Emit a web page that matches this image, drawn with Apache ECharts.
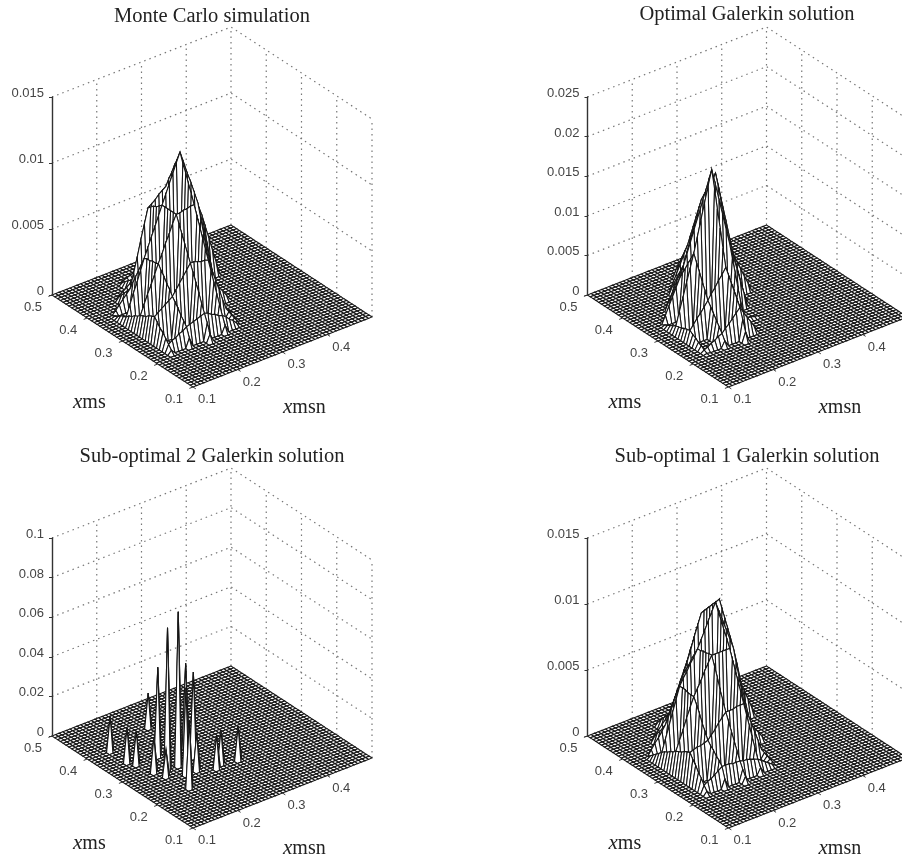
<!DOCTYPE html>
<html><head><meta charset="utf-8">
<style>html,body{margin:0;padding:0;background:#fff}#c{width:902px;height:862px}</style>
<script src="https://cdn.jsdelivr.net/npm/echarts@6/dist/echarts.min.js"></script>
</head><body><div id="c"></div>
<script>
// ---------- axis ticks ----------
const msTicks = [0.1, 0.2, 0.3, 0.4, 0.5];
const msnTicks = [0.1, 0.2, 0.3, 0.4, 0.5];
const msnLabels = [0.1, 0.2, 0.3, 0.4];
const titles = ['Monte Carlo simulation', 'Optimal Galerkin solution', 'Sub-optimal 2 Galerkin solution', 'Sub-optimal 1 Galerkin solution'];
const zMaxes = [0.015, 0.025, 0.1, 0.015];
const zSteps = [0.005, 0.005, 0.02, 0.005];
const gridCells = 50;               // mesh cells per side
const unit = 1e-4;                  // the tables below are in units of 1e-4

// Ridge rows: ms index 15,20,25,...; first entry = msn index where the values start.
// Ridge columns: msn index 5,10,15,...; first entry = ms index where the values start.
const mcRows = [
[5,6,8,9,11,12,14,15,16,17,18,19,18,16,15,13,12,10,7,5,2,0],
[5,20,22,24,26,28,30,34,38,42,46,50,50,49,48,48,47,39,30,22,13,5,2,0],
[5,14,21,28,34,41,48,54,61,67,74,80,80,81,81,82,82,70,57,45,32,20,16,12,8,4,0],
[5,6,14,22,29,37,45,52,59,66,73,80,87,94,101,108,115,106,97,89,80,71,57,43,28,14,0],
[5,0,3,6,9,12,15,26,37,49,60,71,73,75,78,80,82,84,86,88,90,92,84,75,67,58,50,40,30,20,10,0],
[10,0,2,4,6,8,10,20,30,40,50,60,58,57,55,54,52,47,41,36,30,25,20,15,10,5,0],
[15,0,1,2,3,4,5,8,11,14,17,20,17,14,11,8,5,4,3,2,1,0]];
const mcCols = [
[13,0,3,6,9,12,14,17,20,19,18,16,15,14,12,11,9,8,6,5,4,2,1,0],
[13,0,7,14,17,20,24,27,30,34,37,41,44,48,47,47,46,46,45,39,33,27,21,15,12,9,6,3,0],
[12,0,6,13,19,25,32,38,44,50,56,62,68,74,80,80,80,80,80,80,78,76,75,73,71,59,47,34,22,10,8,6,4,2,0],
[13,0,6,12,19,26,33,40,47,54,61,68,75,82,89,95,102,108,115,108,102,95,89,82,78,73,69,64,60,49,38,27,16,5,0],
[15,0,1,2,3,4,5,8,11,14,17,20,30,40,51,61,71,75,80,84,88,92,84,76,68,60,52,46,39,33,26,20,13,7,0],
[30,0,10,20,30,40,50,45,40,35,30,25,21,17,13,9,5,3,0]];

const optRows = [
[5,3,5,8,10,13,15,20,24,29,34,39,31,23,16,8,0],
[5,16,22,28,33,39,45,52,58,65,71,78,63,49,34,20,5,4,3,2,1,0],
[5,10,27,43,60,76,93,112,132,151,171,190,170,149,129,108,88,70,53,35,18,0],
[5,0,10,20,30,40,50,63,77,90,104,117,127,136,146,155,165,143,120,98,75,53,42,32,21,11,0],
[10,0,9,18,28,37,46,61,76,90,105,120,116,112,108,104,100,80,60,40,20,0],
[15,0,10,20,30,40,50,52,54,56,58,60,51,42,33,24,15,12,9,6,3,0]];
const optCols = [
[13,0,1,3,6,8,11,13,16,15,14,12,11,10,8,6,4,2,0],
[13,0,8,15,21,27,33,39,45,55,64,74,83,93,84,76,67,59,50,40,30,20,10,0],
[12,0,13,26,39,47,55,62,70,78,100,123,145,168,190,175,160,146,131,117,103,89,74,60,46,37,28,18,9,0],
[15,0,1,2,3,4,5,22,38,55,71,88,103,119,134,150,165,156,147,138,129,120,106,92,78,64,50,40,30,20,10,0],
[25,0,11,21,32,42,53,62,72,81,91,100,92,84,76,68,60,48,36,24,12,0],
[35,0,3,6,9,12,15,10,5,0]];

// Sub-optimal 2: isolated spikes [ms index, msn index, tip height]
const sub2Spikes = [
[37,6,176],[31,6,176],[29,7,170],[40,19,176],[24,8,180],[21,9,136],[14,10,340],
[17,20,170],[18,22,170],[17,26,170],[19,16,190],[23,14,780],[23,11,720],[29,13,450],
[28,20,430],[24,19,430],[19,13,440]];

const sub1Rows = [
[5,6,8,9,11,13,15,15,15,14,14,14,13,13,12,11,10,8,6,4,2,0],
[5,24,25,26,26,27,28,31,34,38,41,44,44,44,45,45,45,37,29,21,13,5,3,0],
[5,18,25,32,40,47,54,59,64,70,75,80,80,80,80,80,80,68,56,44,32,20,16,12,8,4,0],
[5,10,19,28,37,46,55,60,64,69,73,78,84,90,96,102,108,100,92,84,76,68,55,41,28,15,2,0],
[5,0,4,8,11,15,19,26,32,39,45,52,60,68,77,85,93,94,95,96,97,98,85,73,60,48,35,28,21,14,7,0],
[10,0,3,6,9,12,15,22,29,36,43,50,54,58,62,66,70,65,60,55,50,45,36,27,18,9,0],
[15,0,1,2,3,4,5,8,11,14,17,20,19,18,17,16,15,12,9,6,3,0]];
const sub1Cols = [
[13,0,3,6,10,13,17,20,24,23,22,20,19,18,16,15,13,12,10,8,6,4,2,0],
[13,0,7,15,18,20,23,25,28,33,38,44,49,54,54,54,55,55,55,48,41,33,26,19,15,11,8,4,0],
[12,0,5,9,14,20,26,32,38,44,51,58,66,73,80,80,79,79,78,78,73,68,62,57,52,45,37,30,22,15,12,9,6,3,0],
[13,0,5,10,17,24,31,38,45,52,59,66,73,80,86,91,97,102,108,105,102,99,96,93,84,76,67,59,50,41,32,23,14,5,0],
[15,0,1,2,3,4,5,8,11,14,17,20,30,39,49,58,68,74,80,86,92,98,92,87,81,76,70,60,50,40,30,20,13,7,0],
[30,2,9,15,22,28,35,37,39,41,43,45,39,33,27,21,15,10,5,0]];

// ---------- layout and view ----------
const panelX = [0, 535.5, 0, 535.5];
const panelY = [0, 0, 441, 441];
const titleCenter = [212, 747, 212, 747];
const titleTop = [6, 4, 446, 446];
const view = {u0: 193, v0: 13, uMs: -141, vMs: 92, uMsn: 179, vMsn: 70, zPx: 198, w: 366, h: 400};
const ink = '#151515', soft = '#444';

function project(ms, msn, zFrac) {
  const a = (ms - 0.1) / 0.4, b = (msn - 0.1) / 0.4;
  return [view.u0 + a * view.uMs + b * view.uMsn, view.v0 + a * view.vMs + b * view.vMsn + zFrac * view.zPx];
}
function surface(rows, cols, spikes) {
  const z = [];
  for (let i = 0; i <= gridCells; i++) z.push(new Array(gridCells + 1).fill(0));
  (rows || []).forEach((r, k) => r.slice(1).forEach((v, n) => { const i = 15 + 5 * k, j = r[0] + n; z[i][j] = Math.max(z[i][j], v); }));
  (cols || []).forEach((c, k) => c.slice(1).forEach((v, n) => { const j = 5 + 5 * k, i = c[0] + n; z[i][j] = Math.max(z[i][j], v); }));
  (spikes || []).forEach(s => { z[s[0]][s[1]] = s[2]; });
  return z;
}
const surfaces = [surface(mcRows, mcCols), surface(optRows, optCols), surface(null, null, sub2Spikes), surface(sub1Rows, sub1Cols)];

function quads(z) {
  const out = [];
  for (let i = gridCells - 1; i >= 0; i--) for (let j = gridCells - 1; j >= 0; j--)
    out.push([i, j, z[i][j], z[i + 1][j], z[i + 1][j + 1], z[i][j + 1]]);
  return out;
}
const msOf = i => 0.1 + 0.4 * i / gridCells, msnOf = msOf;

const grids = [], xAxes = [], yAxes = [], series = [], titleList = [];
const hidden = {show: false};
const labelFont = {fontFamily: 'Liberation Sans', fontSize: 13, color: soft};

panelX.forEach((ox, p) => {
  const oy = panelY[p], zMax = zMaxes[p], zStep = zSteps[p];
  const plot = grids.length;
  grids.push({left: ox, top: oy, width: view.w, height: view.h});
  xAxes.push({type: 'value', gridIndex: plot, min: 0, max: view.w, ...hidden});
  yAxes.push({type: 'value', gridIndex: plot, min: 0, max: view.h, ...hidden});
  const zGrid = grids.length;
  grids.push({left: ox + 52, top: oy + 97, width: 10, height: view.zPx});
  xAxes.push({type: 'value', gridIndex: zGrid, min: 0, max: 1, ...hidden});
  yAxes.push({type: 'value', gridIndex: zGrid, min: 0, max: zMax, interval: zStep, splitLine: hidden, z: 6,
    axisLine: {show: true, onZero: false, lineStyle: {color: '#333', width: 1.4}},
    axisTick: {show: true, length: 3, lineStyle: {color: '#333'}},
    axisLabel: {...labelFont, margin: 8, verticalAlign: 'bottom', lineHeight: 7}});

  const zTicks = [];
  for (let k = 1; k * zStep <= zMax + 1e-9; k++) zTicks.push(k * zStep);
  const walls = [];
  zTicks.forEach(t => walls.push([[0.5, 0.1, t / zMax], [0.5, 0.5, t / zMax], [0.1, 0.5, t / zMax]]));
  msnTicks.slice(1).forEach(t => walls.push([[0.5, t, 0], [0.5, t, 1]]));
  msTicks.slice(0, 4).forEach(t => walls.push([[t, 0.5, 0], [t, 0.5, 1]]));
  series.push({type: 'custom', xAxisIndex: plot, yAxisIndex: plot, silent: true, animation: false, clip: false, z: 1,
    data: walls.map((w, k) => [k]),
    renderItem: (params, api) => ({type: 'polyline',
      shape: {points: walls[api.value(0)].map(q => api.coord(project(q[0], q[1], q[2])))},
      style: {fill: null, stroke: '#777', lineWidth: 1.2, lineDash: [1.5, 4]}})});

  series.push({type: 'custom', xAxisIndex: plot, yAxisIndex: plot, silent: true, animation: false, clip: false, z: 2,
    progressive: 0, data: quads(surfaces[p]),
    renderItem: (params, api) => {
      const i = api.value(0), j = api.value(1);
      const ms0 = msOf(i), ms1 = msOf(i + 1), n0 = msnOf(j), n1 = msnOf(j + 1);
      const f = v => v * unit / zMax;
      const h = [api.value(2), api.value(3), api.value(4), api.value(5)];
      return {type: 'polygon', shape: {points: [
        api.coord(project(ms0, n0, f(h[0]))), api.coord(project(ms1, n0, f(h[1]))),
        api.coord(project(ms1, n1, f(h[2]))), api.coord(project(ms0, n1, f(h[3])))]},
        style: {fill: '#fff', stroke: ink, lineWidth: 1.05}};
    }});

  const marks = [];
  msTicks.forEach(t => marks.push({t: t, side: 'ms'}));
  msnLabels.forEach(t => marks.push({t: t, side: 'msn'}));
  series.push({type: 'custom', xAxisIndex: plot, yAxisIndex: plot, silent: true, animation: false, clip: false, z: 3,
    data: marks.map((m, k) => [k]),
    renderItem: (params, api) => {
      const m = marks[api.value(0)], isMs = m.side === 'ms';
      const a = isMs ? api.coord(project(m.t, 0.1, 0)) : api.coord(project(0.1, m.t, 0));
      const b = isMs ? api.coord(project(m.t, 0.092, 0)) : api.coord(project(0.092, m.t, 0));
      return {type: 'group', children: [
        {type: 'line', shape: {x1: a[0], y1: a[1], x2: b[0], y2: b[1]}, style: {stroke: '#333', lineWidth: 1}},
        {type: 'text', x: a[0] + (isMs ? -19 : 14), y: a[1] + 12.5,
         style: {text: String(m.t), fontFamily: 'Liberation Sans', fontSize: 13, fill: soft, align: 'center', verticalAlign: 'middle'}}
      ]};
    }});

  titleList.push({text: titles[p], left: titleCenter[p], top: titleTop[p], textAlign: 'center', padding: 0,
    textStyle: {fontFamily: 'Liberation Serif', fontWeight: 'normal', fontSize: 20.5, color: '#222'}});
  const rich = {i: {fontFamily: 'Liberation Serif', fontStyle: 'italic', fontWeight: 'normal', fontSize: 21, color: '#222'},
                r: {fontFamily: 'Liberation Serif', fontWeight: 'normal', fontSize: 20, color: '#222'}};
  titleList.push({text: '{i|x}{r|ms}', left: ox + 73, top: oy + 392, padding: 0, textStyle: {fontWeight: 'normal', rich: rich}});
  titleList.push({text: '{i|x}{r|msn}', left: ox + 283, top: oy + 397, padding: 0, textStyle: {fontWeight: 'normal', rich: rich}});
});

const chart = echarts.init(document.getElementById('c'), null, {renderer: 'canvas', width: 902, height: 862});
chart.setOption({animation: false, backgroundColor: '#fff', title: titleList, grid: grids, xAxis: xAxes, yAxis: yAxes, series: series});
</script></body></html>
